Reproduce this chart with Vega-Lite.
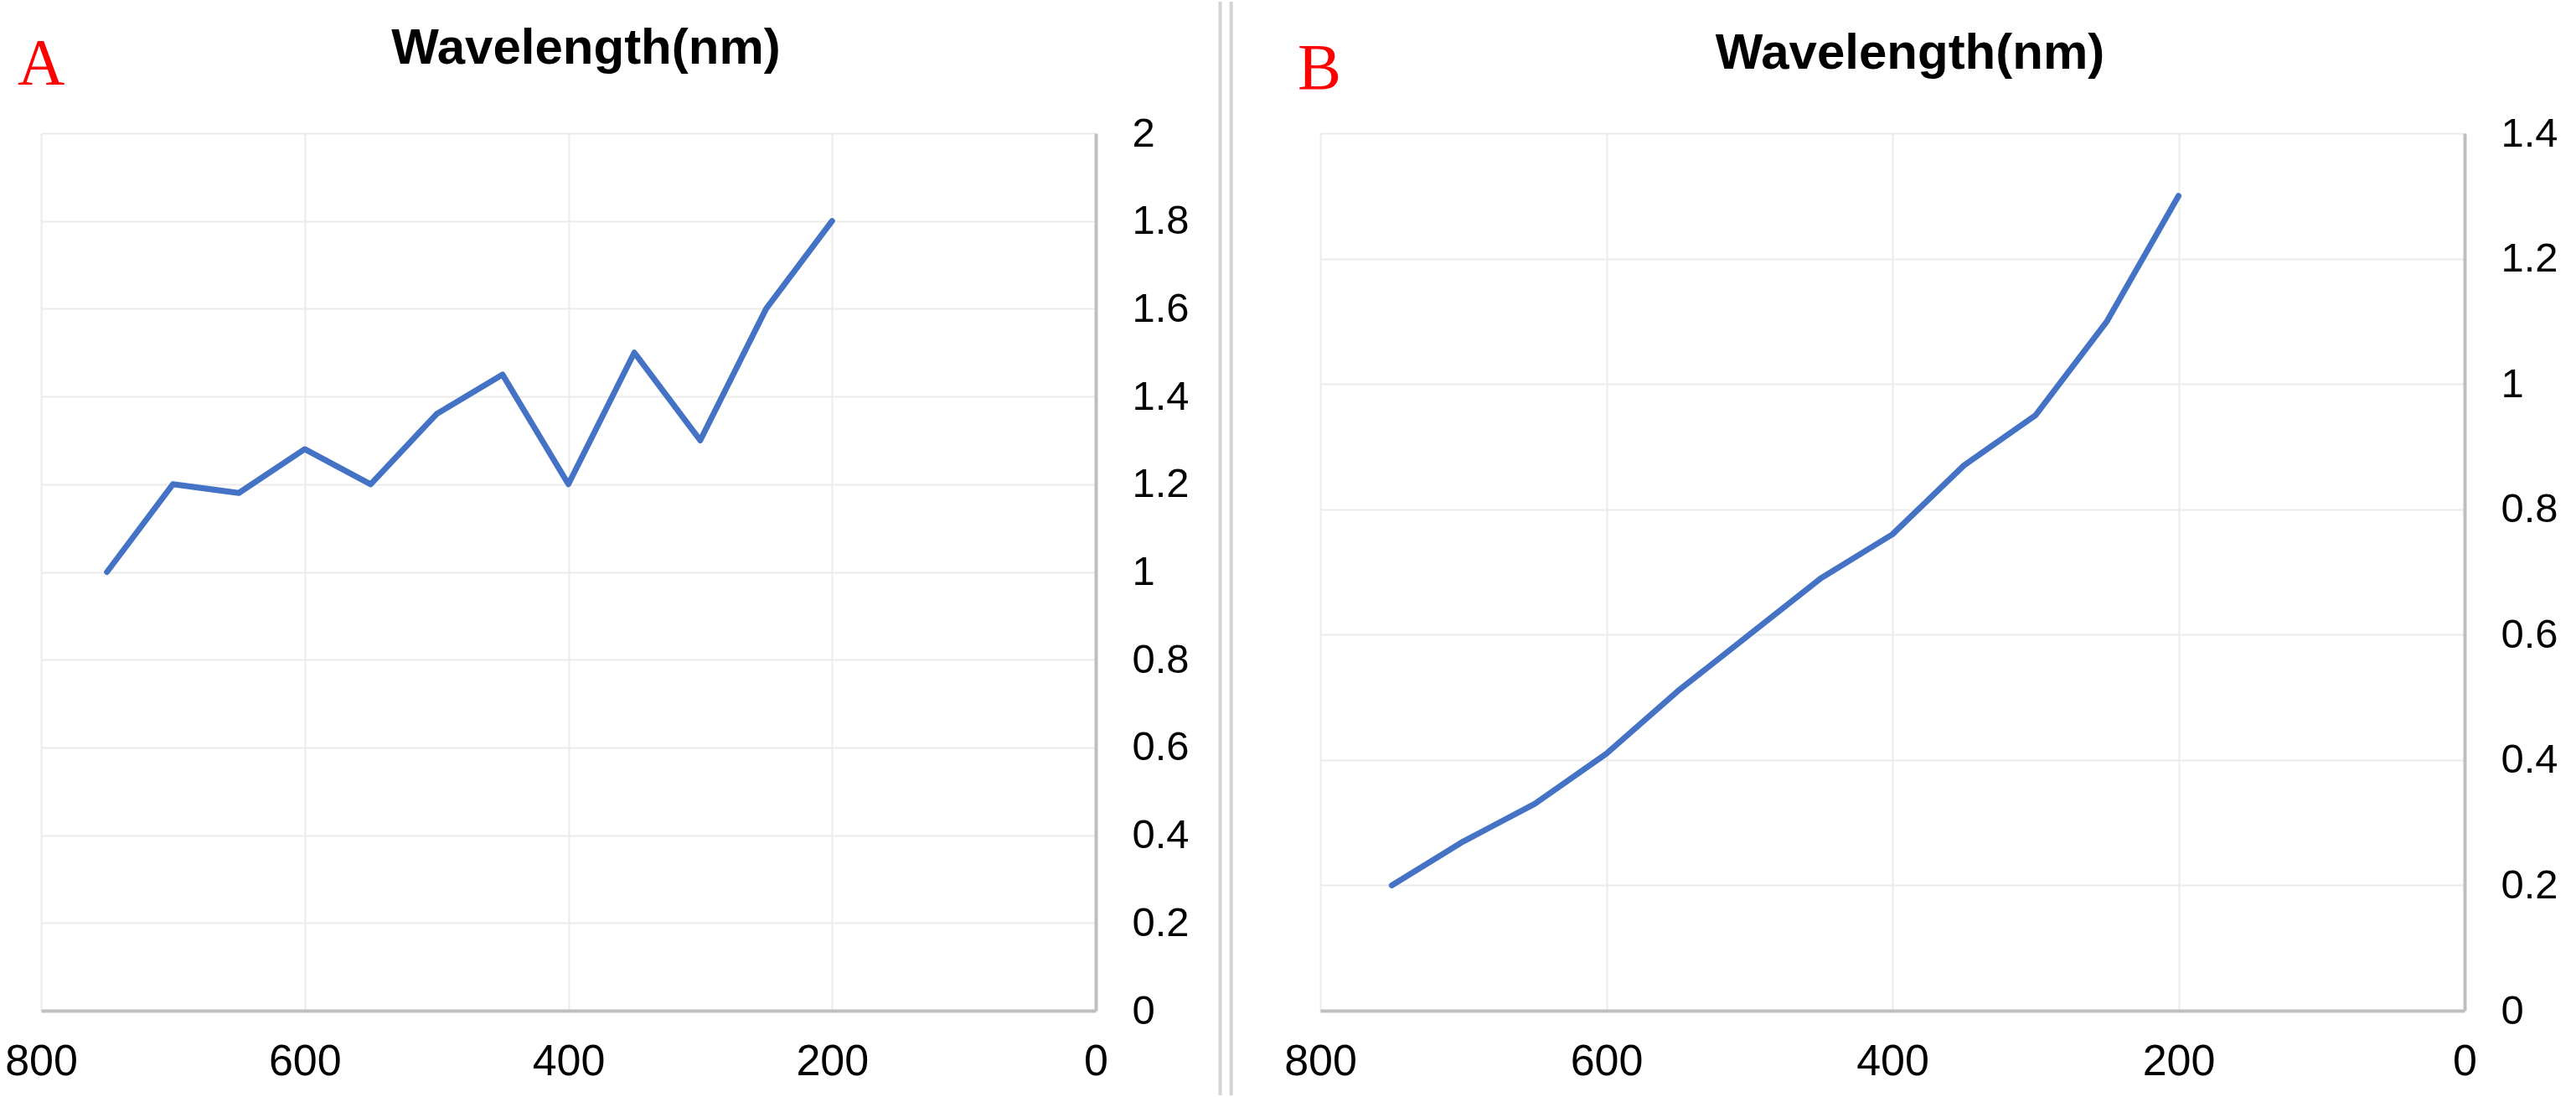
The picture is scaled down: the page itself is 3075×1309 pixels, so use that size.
{
  "$schema": "https://vega.github.io/schema/vega-lite/v6.json",
  "background": "white",
  "padding": {"left": 5, "top": 0, "right": 0, "bottom": 0},
  "bounds": "flush",
  "spacing": 100,
  "datasets": {
    "a": [
      {"wavelength": 750, "value": 1.0},
      {"wavelength": 700, "value": 1.2},
      {"wavelength": 650, "value": 1.18},
      {"wavelength": 600, "value": 1.28},
      {"wavelength": 550, "value": 1.2},
      {"wavelength": 500, "value": 1.36},
      {"wavelength": 450, "value": 1.45},
      {"wavelength": 400, "value": 1.2},
      {"wavelength": 350, "value": 1.5},
      {"wavelength": 300, "value": 1.3},
      {"wavelength": 250, "value": 1.6},
      {"wavelength": 200, "value": 1.8}
    ],
    "b": [
      {"wavelength": 750, "value": 0.2},
      {"wavelength": 700, "value": 0.27},
      {"wavelength": 650, "value": 0.33},
      {"wavelength": 600, "value": 0.41},
      {"wavelength": 550, "value": 0.51},
      {"wavelength": 500, "value": 0.6},
      {"wavelength": 450, "value": 0.69},
      {"wavelength": 400, "value": 0.76},
      {"wavelength": 350, "value": 0.87},
      {"wavelength": 300, "value": 0.95},
      {"wavelength": 250, "value": 1.1},
      {"wavelength": 200, "value": 1.3}
    ]
  },
  "config": {
    "view": {"stroke": null},
    "axis": {
      "labelFont": "Liberation Sans",
      "labelColor": "#000000",
      "ticks": false,
      "tickSize": 0,
      "gridColor": "#ebebeb",
      "gridWidth": 2,
      "domainColor": "#bfbfbf",
      "domainWidth": 4,
      "title": null
    },
    "axisX": {"labelFontSize": 52, "labelPadding": 76, "labelBaseline": "alphabetic", "labelFlush": false},
    "axisY": {"labelFontSize": 49, "labelPadding": 43, "labelFlush": false},
    "title": {"font": "Liberation Sans", "fontSize": 60, "fontWeight": "bold", "color": "#000000"}
  },
  "hconcat": [
    {
      "width": 1259,
      "height": 1047,
      "title": {"text": "Wavelength(nm)", "frame": "group", "anchor": "middle", "dx": 21, "baseline": "alphabetic", "offset": -98},
      "layer": [
        {
          "data": {"name": "a"},
          "mark": {"type": "line", "color": "#4472C4", "strokeWidth": 7, "strokeCap": "round", "strokeJoin": "round"},
          "encoding": {
            "x": {"field": "wavelength", "type": "quantitative", "scale": {"domain": [0, 800], "reverse": true},
                  "axis": {"values": [800, 600, 400, 200, 0], "format": "d"}},
            "y": {"field": "value", "type": "quantitative", "scale": {"domain": [0, 2]},
                  "axis": {"orient": "right", "values": [0, 0.2, 0.4, 0.6, 0.8, 1, 1.2, 1.4, 1.6, 1.8, 2], "format": "~g"}}
          }
        },
        {
          "data": {"values": [{"label": "A"}]},
          "mark": {"type": "text", "font": "Liberation Serif", "fontSize": 78, "color": "#ff0000", "align": "left", "baseline": "alphabetic"},
          "encoding": {
            "text": {"field": "label"},
            "x": {"datum": 817.8},
            "y": {"datum": 2.1127}
          }
        }
      ]
    },
    {
      "width": 68,
      "height": 1047,
      "data": {"values": [{"sep": 1}]},
      "layer": [
        {
          "mark": {"type": "rule", "color": "#d3d3d3", "strokeWidth": 4},
          "encoding": {
            "x": {"datum": 50, "type": "quantitative", "scale": {"domain": [0, 68]}, "axis": null},
            "y": {"datum": 1.14995, "type": "quantitative", "scale": {"domain": [0, 1]}, "axis": null},
            "y2": {"datum": -0.0965}
          }
        },
        {
          "mark": {"type": "rule", "color": "#d3d3d3", "strokeWidth": 4},
          "encoding": {
            "x": {"datum": 63.5, "type": "quantitative"},
            "y": {"datum": 1.14995, "type": "quantitative"},
            "y2": {"datum": -0.0965}
          }
        }
      ]
    },
    {
      "width": 1366,
      "height": 1047,
      "title": {"text": "Wavelength(nm)", "frame": "group", "anchor": "middle", "dx": 21, "baseline": "alphabetic", "offset": -98},
      "layer": [
        {
          "data": {"name": "b"},
          "mark": {"type": "line", "color": "#4472C4", "strokeWidth": 7, "strokeCap": "round", "strokeJoin": "round"},
          "encoding": {
            "x": {"field": "wavelength", "type": "quantitative", "scale": {"domain": [0, 800], "reverse": true},
                  "axis": {"values": [800, 600, 400, 200, 0], "format": "d"}},
            "y": {"field": "value", "type": "quantitative", "scale": {"domain": [0, 1.4]},
                  "axis": {"orient": "right", "values": [0, 0.2, 0.4, 0.6, 0.8, 1, 1.2, 1.4], "format": "~g"}}
          }
        },
        {
          "data": {"values": [{"label": "B"}]},
          "mark": {"type": "text", "font": "Liberation Serif", "fontSize": 78, "color": "#ff0000", "align": "left", "baseline": "alphabetic"},
          "encoding": {
            "text": {"field": "label"},
            "x": {"datum": 815.8},
            "y": {"datum": 1.4709}
          }
        }
      ]
    }
  ]
}
